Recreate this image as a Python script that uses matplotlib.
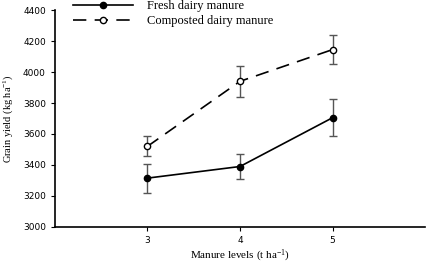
import matplotlib
matplotlib.use('Agg')
import matplotlib.pyplot as plt
from matplotlib.lines import Line2D

levels = [3, 4, 5]
fresh = [3315, 3390, 3705]
fresh_err = [93, 83, 118]
compost = [3520, 3940, 4145]
compost_err = [65, 100, 95]
labels = ['Fresh dairy manure', 'Composted dairy manure']

plt.rcParams['mathtext.default'] = 'regular'

fig = plt.figure(figsize=(4.32, 2.66), dpi=100)
ax = fig.add_axes([0.127, 0.147, 0.857, 0.815])

dash = (8, 5)
ax.errorbar(levels, fresh, yerr=fresh_err, color='black', marker='o', markersize=4.5,
            markerfacecolor='black', linewidth=1.2, ecolor='#555555', elinewidth=1,
            capsize=3, capthick=1)
ax.errorbar(levels, compost, yerr=compost_err, color='black', marker='o', markersize=4.5,
            markerfacecolor='white', linewidth=1.2, dashes=dash, ecolor='#555555',
            elinewidth=1, capsize=3, capthick=1)

ax.set_xlim(2, 6)
ax.set_ylim(3000, 4400)
ax.set_xticks(levels)
ax.set_yticks(range(3000, 4401, 200))
ax.tick_params(labelsize=6.5, length=3, width=0.8)
ax.spines['top'].set_visible(False)
ax.spines['right'].set_visible(False)
ax.spines['left'].set_linewidth(1.2)
ax.spines['bottom'].set_linewidth(1.2)

serif = 'Liberation Serif'
ax.set_xlabel('Manure levels (t ha$^{-1}$)', family=serif, fontsize=8, labelpad=2.5)
ax.set_ylabel('Grain yield (kg ha$^{-1}$)', family=serif, fontsize=7.5, labelpad=6)

handles = [
    Line2D([], [], color='black', linewidth=1.2, marker='o', markersize=4.5,
           markerfacecolor='black'),
    Line2D([], [], color='black', linewidth=1.2, marker='o', markersize=4.5,
           markerfacecolor='white', dashes=dash),
]
ax.legend(handles, labels, loc='upper left', bbox_to_anchor=(0.049, 1.045), frameon=False,
          prop={'family': serif, 'size': 9}, handlelength=4.8, handletextpad=1.1,
          labelspacing=0.25, borderpad=0, borderaxespad=0)

fig.savefig('out.png', dpi=100)
